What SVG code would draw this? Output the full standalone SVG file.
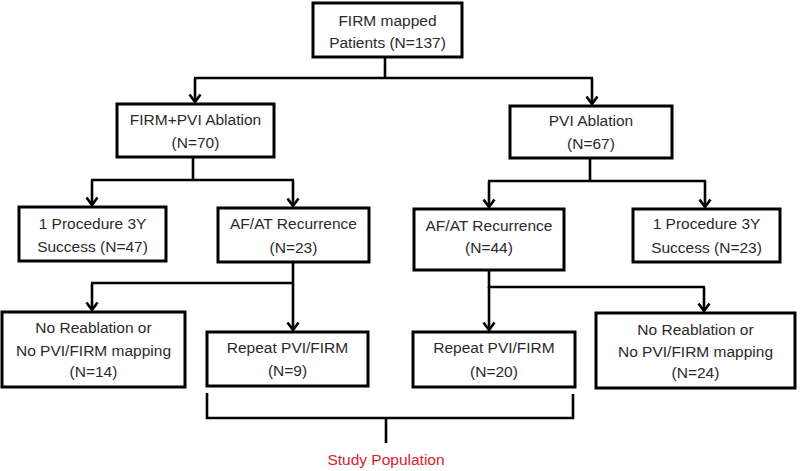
<svg xmlns="http://www.w3.org/2000/svg" width="800" height="471" viewBox="0 0 800 471">
<defs>
<style>
.box{fill:#fff;stroke:#000;stroke-width:3}
.t{font-family:"Liberation Sans",Arial,sans-serif;font-size:15.5px;fill:#2a2a2a;text-anchor:middle}
.c{fill:none;stroke:#000;stroke-width:2.6}
.red{font-family:"Liberation Sans",Arial,sans-serif;font-size:15.5px;fill:#d9232a;text-anchor:middle}
</style>
<marker id="ah" viewBox="-9 -7 11 14" refX="0" refY="0" markerWidth="11" markerHeight="14" markerUnits="userSpaceOnUse" orient="auto">
<path d="M-7.5,-5.5 L0,0 L-7.5,5.5" fill="none" stroke="#000" stroke-width="2.6"/>
</marker>
</defs>
<rect width="800" height="471" fill="#fff"/>
<g id="connectors">
<path class="c" d="M385,57 V78 M194,78 H593"/>
<path class="c" d="M195,78 V102" marker-end="url(#ah)"/>
<path class="c" d="M592,78 V104" marker-end="url(#ah)"/>
<path class="c" d="M193,157 V180 M91,180 H294"/>
<path class="c" d="M92,180 V205" marker-end="url(#ah)"/>
<path class="c" d="M293,180 V206" marker-end="url(#ah)"/>
<path class="c" d="M590,158 V181 M488,181 H706"/>
<path class="c" d="M489,181 V207" marker-end="url(#ah)"/>
<path class="c" d="M705,181 V207" marker-end="url(#ah)"/>
<path class="c" d="M293,262 V283 M91,283 H294"/>
<path class="c" d="M92,283 V310" marker-end="url(#ah)"/>
<path class="c" d="M293,283 V330" marker-end="url(#ah)"/>
<path class="c" d="M489,270 V287 H705"/>
<path class="c" d="M489,287 V330" marker-end="url(#ah)"/>
<path class="c" d="M704,287 V311" marker-end="url(#ah)"/>
<path class="c" d="M207,393 V418 H573 V394 M386,418 V443"/>
</g>
<g id="n_root">
<rect class="box" x="313" y="3" width="149" height="54"/>
<text class="t" x="387.5" y="26">FIRM mapped</text>
<text class="t" x="387.5" y="48">Patients (N=137)</text>
</g>
<g id="n_firmpvi">
<rect class="box" x="117" y="104" width="157" height="53"/>
<text class="t" x="195.5" y="125">FIRM+PVI Ablation</text>
<text class="t" x="195.5" y="148">(N=70)</text>
</g>
<g id="n_pvi">
<rect class="box" x="510" y="106" width="162" height="52"/>
<text class="t" x="591" y="126">PVI Ablation</text>
<text class="t" x="591" y="149">(N=67)</text>
</g>
<g id="n_succ47">
<rect class="box" x="19" y="207" width="147" height="54"/>
<text class="t" x="92.5" y="229">1 Procedure 3Y</text>
<text class="t" x="92.5" y="252">Success (N=47)</text>
</g>
<g id="n_rec23">
<rect class="box" x="218" y="208" width="151" height="54"/>
<text class="t" x="293.5" y="229">AF/AT Recurrence</text>
<text class="t" x="293.5" y="253">(N=23)</text>
</g>
<g id="n_rec44">
<rect class="box" x="414" y="209" width="150" height="61"/>
<text class="t" x="489" y="231">AF/AT Recurrence</text>
<text class="t" x="489" y="253">(N=44)</text>
</g>
<g id="n_succ23">
<rect class="box" x="633" y="209" width="147" height="53"/>
<text class="t" x="706.5" y="229">1 Procedure 3Y</text>
<text class="t" x="706.5" y="253">Success (N=23)</text>
</g>
<g id="n_norea14">
<rect class="box" x="2" y="312" width="183" height="75"/>
<text class="t" x="93.5" y="333">No Reablation or</text>
<text class="t" x="93.5" y="356">No PVI/FIRM mapping</text>
<text class="t" x="93.5" y="377">(N=14)</text>
</g>
<g id="n_rep9">
<rect class="box" x="207" y="332" width="161" height="54"/>
<text class="t" x="287.5" y="353">Repeat PVI/FIRM</text>
<text class="t" x="287.5" y="376">(N=9)</text>
</g>
<g id="n_rep20">
<rect class="box" x="413" y="332" width="162" height="55"/>
<text class="t" x="494" y="353">Repeat PVI/FIRM</text>
<text class="t" x="494" y="377">(N=20)</text>
</g>
<g id="n_norea24">
<rect class="box" x="596" y="313" width="199" height="75"/>
<text class="t" x="695.5" y="335">No Reablation or</text>
<text class="t" x="695.5" y="357">No PVI/FIRM mapping</text>
<text class="t" x="695.5" y="378">(N=24)</text>
</g>
<g id="n_study">
<text class="red" x="386" y="465">Study Population</text>
</g>
</svg>
